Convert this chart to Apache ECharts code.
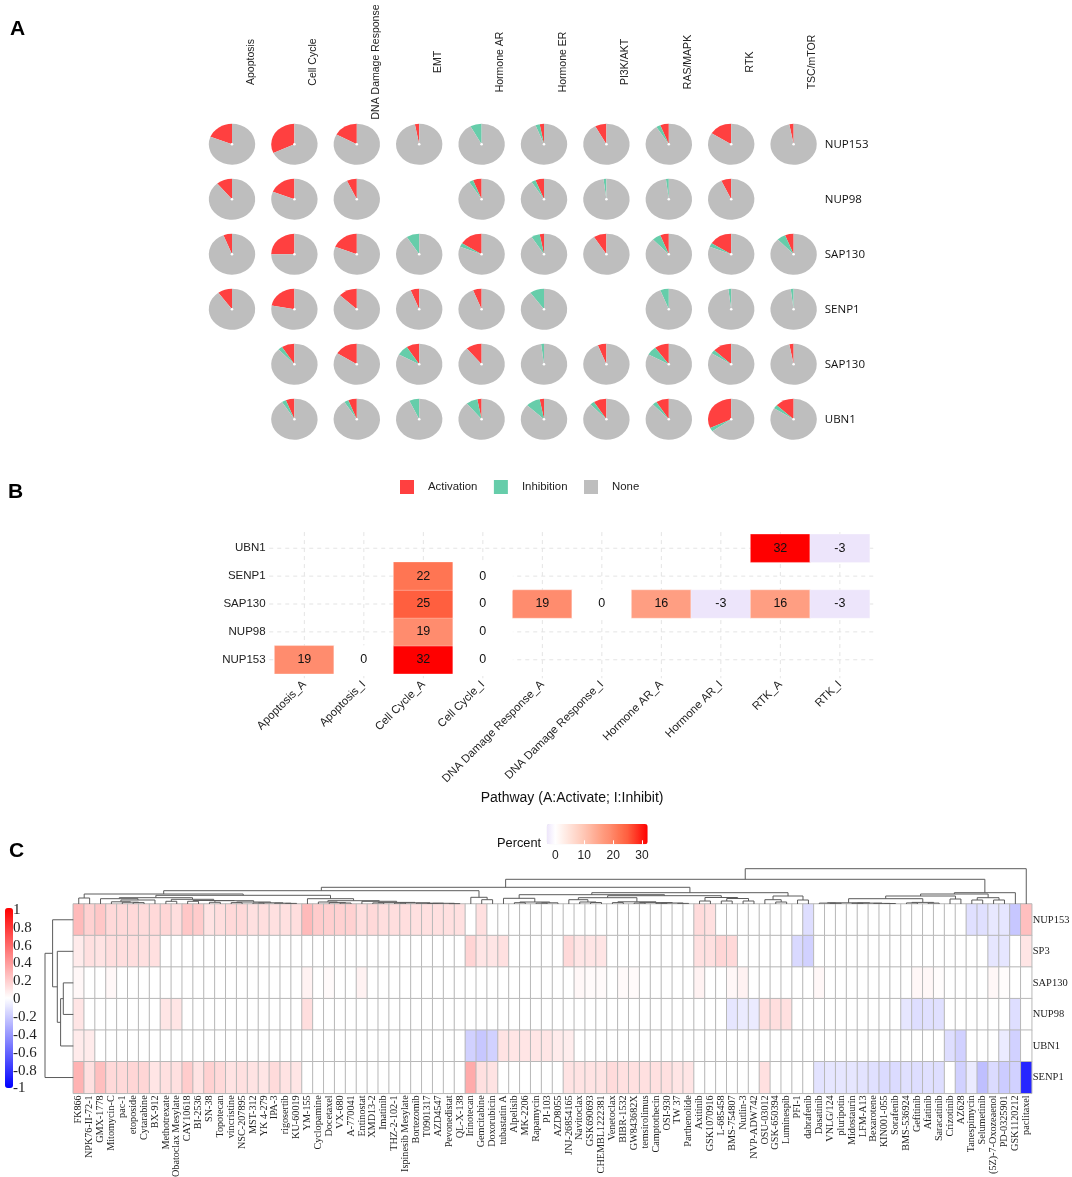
<!DOCTYPE html>
<html>
<head>
<meta charset="utf-8">
<style>html,body{margin:0;padding:0;background:#fff}#c{width:1072px;height:1177px}</style>
<script src="https://cdn.jsdelivr.net/npm/echarts@6/dist/echarts.min.js"></script>
</head>
<body>
<div id="c"></div>
<script>
// ---------- Panel A: share of activation / inhibition, percent (null = no pie)
const pathwaysA = ['Apoptosis','Cell Cycle','DNA Damage Response','EMT','Hormone AR','Hormone ER','PI3K/AKT','RAS/MAPK','RTK','TSC/mTOR'];
const genesA = ['NUP153','NUP98','SAP130','SENP1','SAP130 ','UBN1'];
const activationA = [
  [19,32,17,3,0,3,8,6,16,3],
  [11,19,7,null,6,6,0,0,7,null],
  [6,25,19,0,16,3,9,6,16,6],
  [10,22,13,6,6,0,null,0,0,0],
  [null,9,16,9,11,0,6,10,13,3],
  [null,6,6,0,3,3,9,9,32,13]
];
const inhibitionA = [
  [0,0,0,0,8,3,0,3,0,0],
  [0,0,0,null,3,3,2,2,0,null],
  [0,0,0,9,3,6,0,6,3,6],
  [0,0,0,0,0,10,null,6,2,2],
  [null,3,0,8,0,2,0,7,3,0],
  [null,3,3,7,8,10,3,3,3,3]
];

// ---------- Panel B
const pathwaysB = ['Apoptosis_A','Apoptosis_I','Cell Cycle_A','Cell Cycle_I','DNA Damage Response_A','DNA Damage Response_I','Hormone AR_A','Hormone AR_I','RTK_A','RTK_I'];
const genesB = ['NUP153','NUP98','SAP130','SENP1','UBN1'];
const percentNUP153 = [19,0,32,0,null,null,null,null,null,null];
const percentNUP98  = [null,null,19,0,null,null,null,null,null,null];
const percentSAP130 = [null,null,25,0,19,0,16,-3,16,-3];
const percentSENP1  = [null,null,22,0,null,null,null,null,null,null];
const percentUBN1   = [null,null,null,null,null,null,null,null,32,-3];

// ---------- Panel C (correlation x 100)
const drugs = ['FK866','NPK76-II-72-1','GMX-1778','Mitomycin-C','pac-1','etoposide','Cytarabine','BX-912','Methotrexate','Obatoclax Mesylate',
'CAY10618','BI-2536','SN-38','Topotecan','vincristine','NSC-207895','MST-312','YK 4-279','IPA-3','rigosertib',
'KU-60019','YM-155','Cyclopamine','Docetaxel','VX-680','A-770041','Entinostat','XMD13-2','Imatinib','THZ-2-102-1',
'Ispinesib Mesylate','Bortezomib','T0901317','AZD4547','Pevonedistat','QL-X-138','Irinotecan','Gemcitabine','Doxorubicin','tubastatin A',
'Alpelisib','MK-2206','Rapamycin','PI-103','AZD8055','JNJ-26854165','Navitoclax','GSK690693','CHEMBL1222381','Venetoclax',
'BIBR-1532','GW843682X','temsirolimus','Camptothecin','OSI-930','TW 37','Parthenolide','Axitinib','GSK1070916','L-685458',
'BMS-754807','Nutlin-3','NVP-ADW742','OSU-03012','GSK-650394','Luminespib','PFI-1','dabrafenib','Dasatinib','VNLG/124',
'pluripotin','Midostaurin','LFM-A13','Bexarotene','KIN001-055','Sorafenib','BMS-536924','Gefitinib','Afatinib','Saracatinib',
'Crizotinib','AZ628','Tanespimycin','Selumetinib','(5Z)-7-Oxozeaenol','PD-0325901','GSK1120212','paclitaxel'];
const genesC = ['NUP153','SP3','SAP130','NUP98','UBN1','SENP1'];
const corrNUP153 = [27,18,22,15,15,15,14,15,16,13, 22,20,11,13,15,15,12,13,12,12, 13,27,20,19,18,18,13,15,13,13,
 13,12,12,12,12,12,0,12,0,0, 0,0,0,0,0,0,0,0,0,0, 0,0,0,0,0,0,0,14,12,0, 0,0,0,0,0,0,0,-13,0,0, 0,0,0,0,0,0,0,0,0,0, 0,0,-12,-12,-9,-10,-22,25];
const corrSP3 = [8,12,11,13,13,13,12,12,0,0, 0,0,0,0,0,0,0,0,0,0, 0,0,0,0,0,0,0,0,0,0,
 0,0,0,0,0,0,17,10,10,12, 0,0,0,0,0,15,10,10,10,0, 0,0,0,0,0,0,0,12,12,16, 15,0,0,0,0,0,-15,-18,0,0, 0,0,0,0,0,0,0,0,0,0, 0,0,0,0,-10,-10,0,10];
const corrSAP130 = [3,0,0,3,0,0,0,0,0,0, 0,0,0,0,0,0,0,0,0,0, 0,5,0,2,0,0,5,0,0,0,
 0,0,0,0,0,0,0,0,0,0, 0,0,0,0,0,0,3,2,2,0, 2,2,0,0,0,0,0,5,0,0, 3,5,0,0,0,0,0,0,3,0, 0,0,0,0,0,0,0,3,3,1, 0,0,0,0,3,1,0,0];
const corrNUP98 = [10,0,0,0,0,0,0,0,10,10, 0,0,0,0,0,0,0,0,0,0, 0,13,0,0,0,0,0,0,0,0,
 0,0,0,0,0,0,0,0,0,0, 0,0,0,0,0,0,0,0,0,0, 0,0,0,0,0,0,0,0,0,0, -10,-8,-8,13,13,12,0,0,0,0, 0,0,0,0,0,0,-10,-13,-12,-12, 0,0,0,0,0,0,-13,0];
const corrUBN1 = [8,8,0,0,0,0,0,0,0,0, 0,0,0,0,0,0,0,0,0,0, 0,0,0,0,0,0,0,0,0,0,
 0,0,0,0,0,0,-18,-22,-18,11, 10,10,10,10,8,7,0,0,0,0, 0,0,0,0,0,0,0,0,0,0, 0,0,0,0,0,0,0,0,0,0, 0,0,0,0,0,0,0,0,0,0, -13,-18,0,0,0,-8,-18,0];
const corrSENP1 = [30,12,25,15,15,16,16,10,12,12, 20,11,18,15,11,12,11,10,14,11, 10,0,0,0,0,0,0,0,0,0,
 0,0,0,0,0,0,33,12,11,0, 0,0,0,0,0,11,11,11,11,14, 12,12,12,12,12,10,10,0,0,0, 0,0,0,12,0,0,0,0,-11,-10, -10,-10,-11,-12,-14,-14,-12,-13,-12,-13, 0,-18,-8,-25,-14,-20,-18,-85];
const corrTicks = [-1,1];

// Dendrograms: [height, left, right]; a leaf is a row / column index
const g2 = [6.3,[5.3,2,[4,[2.2,3,[1.8,4,[1.4,5,6]]],7]],[4.7,[2.7,8,9],[3.5,[2.7,10,11],[3.3,[1.7,12,13],[2,[1.4,14,15],[1.2,[1,16,17],[.8,18,[.6,19,20]]]]]]]];
const g3 = [5.3,21,[3.3,[2,22,[1.4,23,[1,24,25]]],[2.7,26,[1.6,[1.1,27,28],[1.2,[.9,29,30],[.8,31,[.7,[.5,32,33],[.4,34,35]]]]]]]];
const g4 = [5.7,39,[2,[1.3,40,41],[1.2,[.9,42,43],44]]];
const g5 = [6.3,[4.3,45,[2,46,[1.5,47,48]]],[2.2,[1.4,49,50],[1.4,[1,51,52],[1,[.7,53,54],[.6,55,56]]]]];
const g6 = [6.5,[3,57,58],[5.5,[3,59,60],[3,61,62]]];
const g7 = [8,[4.3,63,[2,64,65]],[4,66,67]];
const g8 = [8,[5.3,[1.2,[.9,68,[.7,69,70]],[.9,[.7,71,72],[.6,73,[.5,74,75]]]],[1.6,[1.1,76,77],[.9,78,79]]],[5,80,81]];
const dendroColumns = [35.3,[24.7,[16.7,[13.3,[10,[6,0,1],[8.7,g2,g3]],[6.7,36,[4.3,37,38]]],[11.3,[9.3,g4,[8.3,g5,g6]],g7]],[11.3,[10,g8,[6.3,[4,82,83],[4,84,85]]],86]],87];
const dendroRows = [28.3,[20.7,0,[16,1,[12.7,[10,2,3],4]]],5];

// ---------- builders
const SANS = '"Liberation Sans",Arial,sans-serif', SERIF = '"Liberation Serif","Times New Roman",serif';
const RED='#ff4040', GREEN='#66cdaa', GREY='#bebebe';

const noneData=[], actData=[], inhData=[];
activationA.forEach((row,r)=>row.forEach((a,c)=>{
  if(a===null) return;
  const i=inhibitionA[r][c];
  if(a>0) actData.push([c,r,0,a]);
  if(i>0) inhData.push([c,r,a,a+i]);
  noneData.push([c,r,a+i,100]);
}));
function sectorSeries(name,color,data,z,dot){
  return {type:'custom',name,xAxisIndex:0,yAxisIndex:0,z,silent:true,clip:false,itemStyle:{color},data,
    renderItem(p,api){
      const c=api.coord([api.value(0),api.value(1)]), s=api.size([1,1]);
      const a0=-Math.PI/2-2*Math.PI*api.value(2)/100, a1=-Math.PI/2-2*Math.PI*api.value(3)/100;
      const k=s[1]/s[0], r=s[0]*0.372;
      const ch=[{type:'sector',x:c[0],y:c[1],scaleY:k,shape:{cx:0,cy:0,r0:0,r,startAngle:a0,endAngle:a1,clockwise:false},style:{fill:color,stroke:null}}];
      if(dot) ch.push({type:'circle',x:c[0],y:c[1],shape:{cx:0,cy:0,r:1.3},style:{fill:'#fff'},z2:5});
      return {type:'group',children:ch};
    }};
}
const heatBData=[];
[percentNUP153,percentNUP98,percentSAP130,percentSENP1,percentUBN1].forEach((row,r)=>row.forEach((v,c)=>{if(v!==null)heatBData.push([c,r,v]);}));
const heatCData=[];
[corrNUP153,corrSP3,corrSAP130,corrNUP98,corrUBN1,corrSENP1].forEach((row,r)=>row.forEach((v,c)=>heatCData.push([c,r,v/100])));
function flatten(node,out){
  if(typeof node==='number') return {p:node,h:0};
  const l=flatten(node[1],out), r=flatten(node[2],out);
  out.push([l.p,l.h,r.p,r.h,node[0]]);
  return {p:(l.p+r.p)/2,h:node[0]};
}
const colLinks=[], rowLinks=[]; flatten(dendroColumns,colLinks); flatten(dendroRows,rowLinks);
function dendroSeries(idx,data,vertical){
  return {type:'custom',xAxisIndex:idx,yAxisIndex:idx,silent:true,clip:false,data,
    renderItem(p,api){
      const v=[0,1,2,3,4].map(i=>api.value(i));
      const pts=vertical
        ? [[v[0],v[1]],[v[0],v[4]],[v[2],v[4]],[v[2],v[3]]]
        : [[v[1],v[0]],[v[4],v[0]],[v[4],v[2]],[v[3],v[2]]];
      return {type:'polyline',shape:{points:pts.map(q=>api.coord(q))},style:{fill:null,stroke:'#5c5c5c',lineWidth:1}};
    }};
}
// B palette: white to red through salmon, lilac below zero
const anchors=[[-3,[237,229,251]],[0,[255,255,255]],[5,[255,226,217]],[10,[255,198,180]],[16,[255,158,130]],[19,[255,140,110]],[22,[255,117,83]],[25,[255,95,63]],[32,[255,0,0]]];
const paletteB=[];
for(let v=-3;v<=32;v++){
  let k=0; while(k<anchors.length-2&&v>anchors[k+1][0])k++;
  const [a,ca]=anchors[k],[b,cb]=anchors[k+1],t=(v-a)/(b-a);
  paletteB.push('rgb('+ca.map((x,i)=>Math.round(x+(cb[i]-x)*t)).join(',')+')');
}
// dashed guide lines of panel B
const guides=[]; pathwaysB.forEach((_,i)=>guides.push([i,0,0])); genesB.forEach((_,j)=>guides.push([0,j,1]));

const hidden={show:false};
const letter=(text,left,top)=>({text,left,top,padding:0,textStyle:{fontFamily:SANS,fontWeight:'bold',fontSize:21,color:'#000'}});
const G={outerBoundsMode:'none'};

const option={
  animation:false,
  backgroundColor:'#fff',
  title:[letter('A',10,19),letter('B',8,482),letter('C',9,841),
    {text:'Percent',left:497,top:837,padding:0,textStyle:{fontFamily:SANS,fontWeight:'normal',fontSize:12.8,color:'#111'}}],
  legend:{left:400,top:480,padding:0,icon:'rect',itemWidth:14,itemHeight:14,itemGap:16.5,selectedMode:false,
    data:['Activation','Inhibition','None'],
    textStyle:{fontFamily:SANS,fontSize:11.4,color:'#222',padding:[0,0,0,9]}},
  grid:[
    {...G,left:200.8,top:116.8,width:624,height:330},        // 0 pies
    {...G,left:219.8,top:118,width:624,height:1},            // 1 pathway heads
    {...G,left:274.6,top:534.3,width:595,height:139.4},      // 2 heat B
    {...G,left:555.4,top:824,width:86.6,height:20.3},        // 3 percent scale
    {...G,left:73.3,top:904,width:958.4,height:189.3},       // 4 heat C
    {...G,left:73.3,top:864,width:958.4,height:40},          // 5 column tree
    {...G,left:33.3,top:904,width:40,height:189.3},          // 6 row tree
    {...G,left:11,top:910,width:1,height:178.5}              // 7 corr scale
  ],
  xAxis:[
    {gridIndex:0,type:'category',data:pathwaysA,show:false},
    {gridIndex:1,type:'category',data:pathwaysA,position:'top',axisLine:hidden,axisTick:hidden,
      axisLabel:{interval:0,rotate:90,align:'center',verticalAlign:'middle',margin:56,fontFamily:SANS,fontSize:10.5,color:'#222'}},
    {gridIndex:2,type:'category',data:pathwaysB,axisLine:hidden,axisTick:hidden,name:'Pathway (A:Activate; I:Inhibit)',nameLocation:'middle',nameGap:117,
      nameTextStyle:{fontFamily:SANS,fontSize:14,color:'#111'},
      axisLabel:{interval:0,rotate:45,margin:9,fontFamily:SANS,fontSize:11.4,color:'#222'}},
    {gridIndex:3,type:'value',min:0,max:30,interval:10,z:10,axisLine:hidden,splitLine:hidden,
      axisTick:{show:true,inside:true,length:4,lineStyle:{color:'#fff'}},
      axisLabel:{margin:5,fontFamily:SANS,fontSize:12,color:'#222',showMinLabel:true,showMaxLabel:true}},
    {gridIndex:4,type:'category',data:drugs,axisLine:hidden,axisTick:hidden,
      axisLabel:{interval:0,rotate:90,margin:2,fontFamily:SERIF,fontSize:10.2,color:'#222'}},
    {gridIndex:5,type:'value',min:-0.5,max:87.5,show:false},
    {gridIndex:6,type:'value',min:0,max:40,inverse:true,show:false},
    {gridIndex:7,type:'value',min:0,max:1,show:false}
  ],
  yAxis:[
    {gridIndex:0,type:'category',data:genesA,inverse:true,position:'right',axisLine:hidden,axisTick:hidden,
      axisLabel:{interval:0,margin:0,fontFamily:'"Open Sans",sans-serif',fontSize:11.5,color:'#111'}},
    {gridIndex:1,type:'value',show:false},
    {gridIndex:2,type:'category',data:genesB,axisLine:hidden,axisTick:hidden,
      axisLabel:{interval:0,margin:9,fontFamily:SANS,fontSize:11.5,color:'#222'}},
    {gridIndex:3,type:'value',show:false},
    {gridIndex:4,type:'category',data:genesC,inverse:true,position:'right',axisLine:hidden,axisTick:hidden,
      axisLabel:{interval:0,margin:1,fontFamily:SERIF,fontSize:10.5,color:'#222'}},
    {gridIndex:5,type:'value',min:0,max:40,show:false},
    {gridIndex:6,type:'value',min:-0.5,max:5.5,inverse:true,show:false},
    {gridIndex:7,type:'value',position:'right',min:corrTicks[0],max:corrTicks[1],interval:0.2,axisLine:hidden,axisTick:hidden,splitLine:hidden,
      axisLabel:{margin:1,showMinLabel:true,showMaxLabel:true,fontFamily:SERIF,fontSize:15,color:'#222',formatter:v=>String(Math.round(v*10)/10)}}
  ],
  visualMap:[
    {type:'continuous',seriesIndex:4,dimension:2,min:-3,max:32,orient:'horizontal',left:546.7,top:824,padding:0,itemWidth:20.3,itemHeight:101,
      calculable:false,hoverLink:false,inRange:{color:paletteB}},
    {type:'continuous',seriesIndex:5,dimension:2,min:-1,max:1,orient:'vertical',left:5,top:908,padding:0,itemWidth:8,itemHeight:180,
      calculable:false,hoverLink:false,inRange:{color:['#0000ff','#ffffff','#ff0000']}}
  ],
  series:[
    sectorSeries('None',GREY,noneData,3,true),
    sectorSeries('Activation',RED,actData,2,false),
    sectorSeries('Inhibition',GREEN,inhData,2,false),
    {type:'custom',xAxisIndex:2,yAxisIndex:2,silent:true,clip:false,z:1,data:guides,
      renderItem(p,api){
        const s=api.size([1,1]), c=api.coord([api.value(0),api.value(1)]), horiz=api.value(2)===1;
        const top=api.coord([0,genesB.length-1])[1]-s[1]*0.58, bot=api.coord([0,0])[1]+s[1]*0.66;
        const l=api.coord([0,0])[0]-s[0]*0.59, r=api.coord([pathwaysB.length-1,0])[0]+s[0]*0.57;
        const shape=horiz?{x1:l,y1:c[1],x2:r,y2:c[1]}:{x1:c[0],y1:top,x2:c[0],y2:bot};
        return {type:'line',shape,style:{stroke:'#e4e4e4',lineWidth:1,lineDash:[4,4]}};
      }},
    {type:'heatmap',xAxisIndex:2,yAxisIndex:2,z:2,silent:true,data:heatBData,
      itemStyle:{borderColor:'rgba(255,255,255,0.3)',borderWidth:1},
      label:{show:true,fontFamily:SANS,fontSize:12.5,color:'#111',formatter:p=>String(p.value[2])}},
    {type:'heatmap',xAxisIndex:4,yAxisIndex:4,z:2,silent:true,data:heatCData,
      itemStyle:{borderColor:'#b8b8b8',borderWidth:1}},
    dendroSeries(5,colLinks,true),
    dendroSeries(6,rowLinks,false)
  ]
};
const chart=echarts.init(document.getElementById('c'),null,{renderer:'canvas'});
chart.setOption(option);
</script>
</body>
</html>
